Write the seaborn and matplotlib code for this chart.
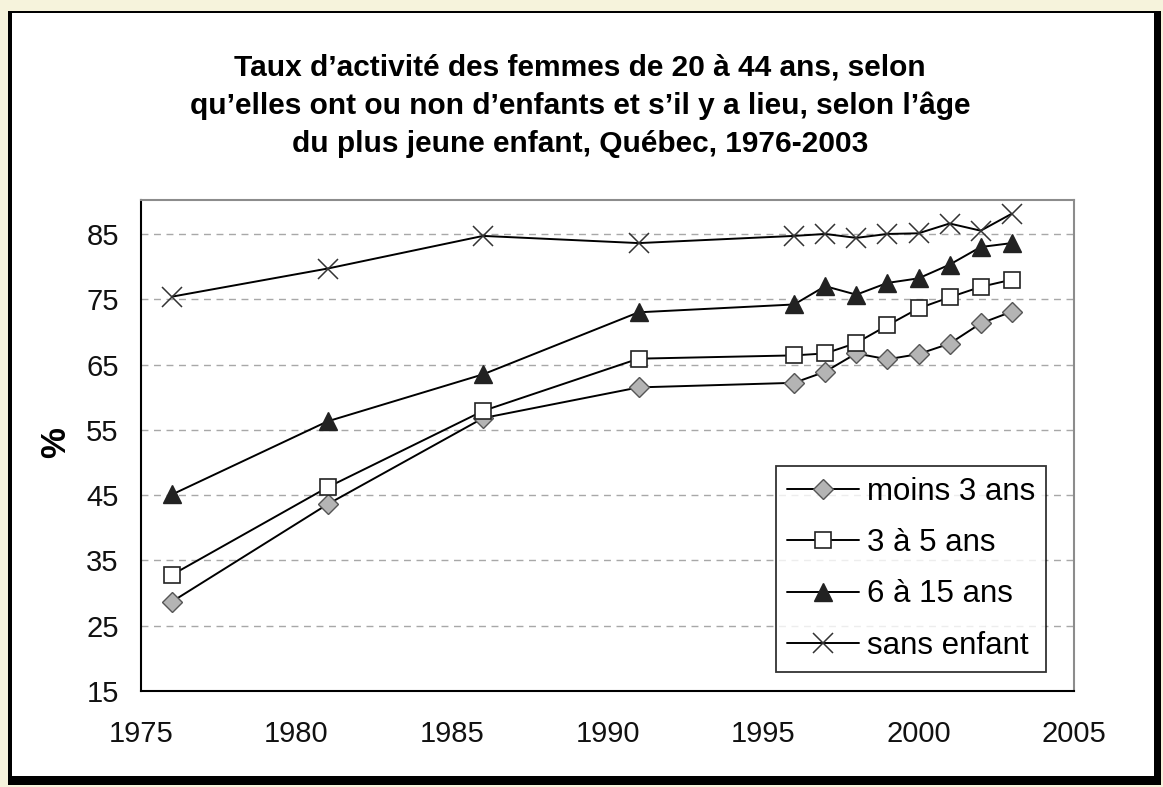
import matplotlib
matplotlib.use('Agg')
import matplotlib.pyplot as plt
import seaborn as sns
import pandas as pd
from matplotlib.patches import Rectangle

years = [1976, 1981, 1986, 1991, 1996, 1997, 1998, 1999, 2000, 2001, 2002, 2003]
moins_3 = [28.7, 43.6, 56.8, 61.5, 62.2, 63.9, 66.7, 65.8, 66.6, 68.2, 71.3, 73.1]
de_3_a_5 = [32.8, 46.2, 57.9, 65.9, 66.4, 66.7, 68.3, 71.0, 73.6, 75.3, 76.9, 78.0]
de_6_a_15 = [45.1, 56.3, 63.5, 73.0, 74.2, 77.0, 75.7, 77.5, 78.2, 80.3, 83.0, 83.6]
sans_enfant = [75.4, 79.7, 84.7, 83.6, 84.7, 85.0, 84.4, 85.0, 85.1, 86.6, 85.5, 88.1]

series_names = ['moins 3 ans', '3 à 5 ans', '6 à 15 ans', 'sans enfant']
title_lines = ['Taux d\u2019activité des femmes de 20 à 44 ans, selon',
               'qu\u2019elles ont ou non d\u2019enfants et s\u2019il y a lieu, selon l\u2019âge',
               'du plus jeune enfant, Québec, 1976-2003']

sns.set_style('white')
plt.rcParams['font.family'] = ['Liberation Sans', 'DejaVu Sans']
plt.rcParams['text.color'] = 'black'

W, H = 1163, 787
fig = plt.figure(figsize=(W / 100, H / 100), dpi=100)
fig.patch.set_facecolor('#f6f3dc')

# framed white panel, drawn behind the axes
fig.patches.append(Rectangle((8 / W, 1 - 785 / H), (1161 - 8) / W, (785 - 11) / H,
                             transform=fig.transFigure, facecolor='black', edgecolor='none', zorder=-2))
fig.patches.append(Rectangle((12 / W, 1 - 776 / H), (1154 - 12) / W, (776 - 13) / H,
                             transform=fig.transFigure, facecolor='white', edgecolor='none', zorder=-1))

ax = fig.add_axes([141 / W, 1 - 691 / H, (1074 - 141) / W, (691 - 200) / H])
ax.set_zorder(2)
ax.set_facecolor('white')

df = pd.DataFrame({'year': years, series_names[0]: moins_3, series_names[1]: de_3_a_5,
                   series_names[2]: de_6_a_15, series_names[3]: sans_enfant})

styles = {
    'moins 3 ans': dict(marker='D', markersize=10, markerfacecolor='#b4b4b4', markeredgecolor='#555555', markeredgewidth=1),
    '3 à 5 ans': dict(marker='s', markersize=12, markerfacecolor='white', markeredgecolor='#222222', markeredgewidth=1.2),
    '6 à 15 ans': dict(marker='^', markersize=13, markerfacecolor='#222222', markeredgecolor='#222222', markeredgewidth=1),
    'sans enfant': dict(marker='x', markersize=15, markeredgecolor='#333333', markeredgewidth=1.1),
}

for name in series_names:
    sns.lineplot(data=df, x='year', y=name, ax=ax, color='black', linewidth=1.4,
                 label=name, zorder=3, **styles[name])

ax.set_xlim(1975, 2005)
ax.set_ylim(15, 90.2)
ax.set_xticks(range(1975, 2006, 5))
ax.set_yticks(range(15, 86, 10))
ax.set_xlabel('')
ax.set_ylabel('')
ax.tick_params(axis='both', labelsize=21, direction='out', length=7, width=1.3,
               color='black', labelcolor='#111111')
ax.tick_params(axis='y', pad=9)
ax.tick_params(axis='x', pad=14)
ax.yaxis.grid(True, linestyle=(0, (5, 4)), color='#a8a8a8', linewidth=1)
ax.xaxis.grid(False)
for s in ['left', 'bottom']:
    ax.spines[s].set_color('black')
    ax.spines[s].set_linewidth(1.5)
for s in ['top', 'right']:
    ax.spines[s].set_color('#8c8c8c')
    ax.spines[s].set_linewidth(1.5)

fig.text(56 / W, 1 - 443 / H, '%', rotation=90, ha='center', va='center',
         fontsize=25, fontweight='bold')

for i, line in enumerate(title_lines):
    fig.text(580 / W, 1 - (67 + 38.5 * i) / H, line, ha='center', va='center',
             fontsize=21.5, fontweight='bold')

leg = ax.legend(loc='upper left', bbox_to_anchor=(776 / W, 1 - 466 / H),
                bbox_transform=fig.transFigure, fontsize=22.5, frameon=True,
                fancybox=False, edgecolor='black', handlelength=2.3,
                handletextpad=0.25, labelspacing=0.68, borderpad=0.35,
                borderaxespad=0)
leg.get_frame().set_linewidth(1.3)

fig.savefig('out.png', dpi=100, facecolor=fig.get_facecolor())
